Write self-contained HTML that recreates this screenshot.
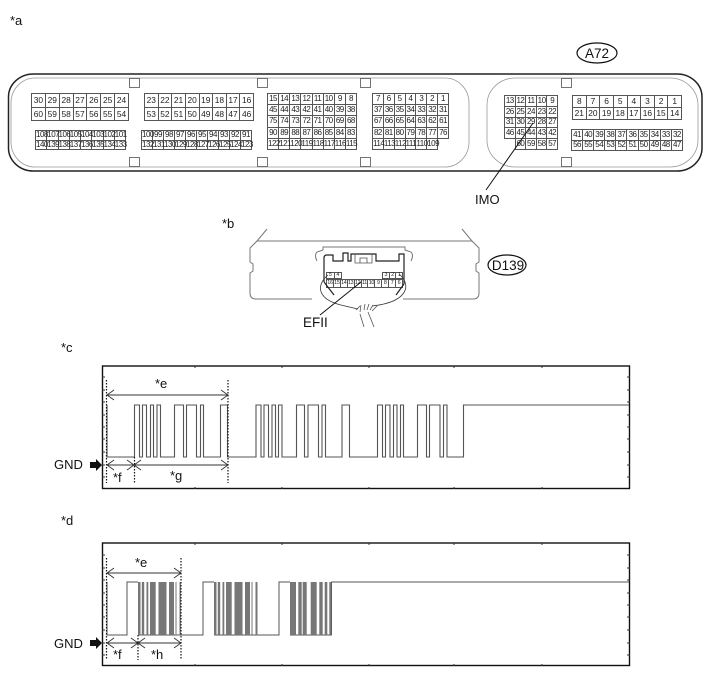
<!DOCTYPE html>
<html><head><meta charset="utf-8"><style>
html,body{margin:0;padding:0;background:#fff;width:713px;height:681px;overflow:hidden}
#w{position:relative;width:713px;height:681px;font-family:"Liberation Sans",sans-serif;color:#111}
table{position:absolute;border-collapse:collapse;table-layout:fixed;font-size:8.4px;line-height:1;color:#222}
td{border:1px solid #555;padding:0;text-align:center;white-space:nowrap;overflow:visible}
table.s{font-size:8px;letter-spacing:-.5px}
table.t{font-size:5.4px;letter-spacing:-.3px}
td.n{border:none}
svg{position:absolute;left:0;top:0}
svg text{font-family:"Liberation Sans",sans-serif;font-size:13px;fill:#111}
</style></head><body><div id="w">
<table style="left:31px;top:93px;width:98px;height:28px"><tr><td>30</td><td>29</td><td>28</td><td>27</td><td>26</td><td>25</td><td>24</td></tr><tr><td>60</td><td>59</td><td>58</td><td>57</td><td>56</td><td>55</td><td>54</td></tr></table>
<table style="left:144px;top:93px;width:110px;height:28px"><tr><td>23</td><td>22</td><td>21</td><td>20</td><td>19</td><td>18</td><td>17</td><td>16</td></tr><tr><td>53</td><td>52</td><td>51</td><td>50</td><td>49</td><td>48</td><td>47</td><td>46</td></tr></table>
<table class="s" style="left:35px;top:130px;width:91px;height:20px"><tr><td>108</td><td>107</td><td>106</td><td>105</td><td>104</td><td>103</td><td>102</td><td>101</td></tr><tr><td>140</td><td>139</td><td>138</td><td>137</td><td>136</td><td>135</td><td>134</td><td>133</td></tr></table>
<table class="s" style="left:141px;top:130px;width:111px;height:20px"><tr><td>100</td><td>99</td><td>98</td><td>97</td><td>96</td><td>95</td><td>94</td><td>93</td><td>92</td><td>91</td></tr><tr><td>132</td><td>131</td><td>130</td><td>129</td><td>128</td><td>127</td><td>126</td><td>125</td><td>124</td><td>123</td></tr></table>
<table class="s" style="left:267px;top:93px;width:90px;height:57px"><tr><td>15</td><td>14</td><td>13</td><td>12</td><td>11</td><td>10</td><td>9</td><td>8</td></tr><tr><td>45</td><td>44</td><td>43</td><td>42</td><td>41</td><td>40</td><td>39</td><td>38</td></tr><tr><td>75</td><td>74</td><td>73</td><td>72</td><td>71</td><td>70</td><td>69</td><td>68</td></tr><tr><td>90</td><td>89</td><td>88</td><td>87</td><td>86</td><td>85</td><td>84</td><td>83</td></tr><tr><td>122</td><td>121</td><td>120</td><td>119</td><td>118</td><td>117</td><td>116</td><td>115</td></tr></table>
<table class="s" style="left:372px;top:93px;width:77px;height:57px"><tr><td>7</td><td>6</td><td>5</td><td>4</td><td>3</td><td>2</td><td>1</td></tr><tr><td>37</td><td>36</td><td>35</td><td>34</td><td>33</td><td>32</td><td>31</td></tr><tr><td>67</td><td>66</td><td>65</td><td>64</td><td>63</td><td>62</td><td>61</td></tr><tr><td>82</td><td>81</td><td>80</td><td>79</td><td>78</td><td>77</td><td>76</td></tr><tr><td>114</td><td>113</td><td>112</td><td>111</td><td>110</td><td>109</td><td class="n"></td></tr></table>
<table class="s" style="left:504px;top:95px;width:54px;height:55px"><tr><td>13</td><td>12</td><td>11</td><td>10</td><td>9</td></tr><tr><td>26</td><td>25</td><td>24</td><td>23</td><td>22</td></tr><tr><td>31</td><td>30</td><td>29</td><td>28</td><td>27</td></tr><tr><td>46</td><td>45</td><td>44</td><td>43</td><td>42</td></tr><tr><td class="n"></td><td>60</td><td>59</td><td>58</td><td>57</td></tr></table>
<table style="left:572px;top:95px;width:110px;height:25px"><tr><td>8</td><td>7</td><td>6</td><td>5</td><td>4</td><td>3</td><td>2</td><td>1</td></tr><tr><td>21</td><td>20</td><td>19</td><td>18</td><td>17</td><td>16</td><td>15</td><td>14</td></tr></table>
<table class="s" style="left:571px;top:129px;width:112px;height:22px"><tr><td>41</td><td>40</td><td>39</td><td>38</td><td>37</td><td>36</td><td>35</td><td>34</td><td>33</td><td>32</td></tr><tr><td>56</td><td>55</td><td>54</td><td>53</td><td>52</td><td>51</td><td>50</td><td>49</td><td>48</td><td>47</td></tr></table>
<table class="t" style="left:326px;top:272px;width:16px;height:7px"><tr><td>5</td><td>4</td></tr></table>
<table class="t" style="left:382px;top:272px;width:21px;height:7px"><tr><td>3</td><td>2</td><td>1</td></tr></table>
<table class="t" style="left:326px;top:279px;width:77px;height:9px"><tr><td>16</td><td>15</td><td>14</td><td>13</td><td>12</td><td>11</td><td>10</td><td>9</td><td>8</td><td>7</td><td>6</td></tr></table>
<svg width="713" height="681" viewBox="0 0 713 681">
<text x="10" y="25">*a</text>
<rect x="8.500" y="74" width="693.500" height="97" rx="25" ry="23" fill="none" stroke="#222" stroke-width="1.500"/>
<rect x="11" y="78" width="458" height="89" rx="24" ry="25" fill="none" stroke="#999" stroke-width=".8"/>
<rect x="487" y="78" width="211" height="89" rx="28" ry="27" fill="none" stroke="#999" stroke-width=".8"/>
<g fill="none" stroke="#666" stroke-width=".9">
<rect x="129.500" y="78.500" width="10" height="9"/><rect x="257.500" y="78.500" width="10" height="9"/><rect x="360.500" y="78.500" width="10" height="9"/><rect x="561.500" y="78.500" width="10" height="9"/>
<rect x="129.500" y="157.500" width="10" height="9"/><rect x="257.500" y="157.500" width="10" height="9"/><rect x="360.500" y="157.500" width="10" height="9"/><rect x="561.500" y="157.500" width="10" height="9"/>
</g>
<ellipse cx="597" cy="53" rx="20" ry="10" fill="none" stroke="#111" stroke-width="1.2"/>
<text x="597" y="58" text-anchor="middle" style="font-size:13.5px">A72</text>
<line x1="533" y1="123" x2="486" y2="190" stroke="#111" stroke-width="1"/>
<text x="475" y="204">IMO</text>

<text x="222" y="228">*b</text>
<g fill="none" stroke="#777" stroke-width="1">
<path d="M267 229 L257 241 H472 L462 229"/>
<path d="M257 241 L250 248 V262 L253 264 V271 L250 273 V293 Q250 299 256 299 H312"/>
<path d="M472 241 L479 248 V262 L476 264 V271 L479 273 V293 Q479 299 473 299 H403"/>
<path d="M317 261 Q314 255 317 252 L323 250 V247 H405 V250 L411 252 Q414 255 411 261"/>
</g>
<path d="M324 282 V258 Q324 255 327 255 H333 V261 H343 V253 H348 V261 H351 V254 H376 V261 H399 V254 H404 V284 M324 282 L334 295 M404 284 L396 295" fill="none" stroke="#222" stroke-width="1.2"/>
<path d="M355 254 V263 H372 V254 M360 263 V258 H367 V263" fill="none" stroke="#555" stroke-width=".8"/>
<path d="M328 275 C316 285 316 300 345 306 L358 309 M399 274 C412 285 408 302 372 306" fill="none" stroke="#333" stroke-width=".8"/>
<path d="M356 310 L360 306 M360 312 L361 305 M364 310 L365 304 M367 310 L369 304 M370 310 L373 305 M372 311 L377 306 M360 314 L364 327 M368 312 L374 327" fill="none" stroke="#555" stroke-width=".8"/>
<line x1="361" y1="282" x2="320" y2="315" stroke="#111" stroke-width="1"/>
<text x="303" y="327" style="font-size:13.5px">EFII</text>
<ellipse cx="507" cy="265" rx="19" ry="10" fill="none" stroke="#111" stroke-width="1.2"/>
<text x="508" y="270" text-anchor="middle" style="font-size:13.5px">D139</text>

<text x="61" y="352">*c</text>
<rect x="102.500" y="366" width="527" height="122.500" fill="none" stroke="#111" stroke-width="1.400"/>
<path d="M195 366v2M282 366v2M369 366v2M454 366v2M542 366v2M195 489v-2M282 489v-2M369 489v-2M454 489v-2M542 489v-2M102 377h3M102 390h3M102 402h3M102 415h3M102 427h3M102 439h3M102 452h3M102 465h3M102 477h3M630 377h-3M630 390h-3M630 402h-3M630 415h-3M630 427h-3M630 439h-3M630 452h-3M630 465h-3M630 477h-3" stroke="#333" stroke-width="1" fill="none"/>
<path d="M107 405 V457 H134.500 V405 H139.500 V457 H142.500 V405 H146.500 V457 H150.500 V405 H153.500 V457 H157 V405 H160.500 V457 H174.500 V405 H183.500 V457 H186.500 V405 H196.500 V457 H200.500 V405 H203.500 V457 H220.500 V405 H227.500 V457 H256 V405 H261 V457 H264 V405 H268.500 V457 H272 V405 H275.500 V457 H278.500 V405 H282 V457 H296.500 V405 H304.500 V457 H308 V405 H318.500 V457 H322 V405 H325.500 V457 H342 V405 H349.500 V457 H377.500 V405 H382.500 V457 H385.500 V405 H390 V457 H393.500 V405 H397 V457 H400.500 V405 H403.500 V457 H417.500 V405 H426.500 V457 H429.500 V405 H440 V457 H443.500 V405 H447 V457 H463.500 V405 H629" fill="none" stroke="#555" stroke-width="1.100"/>
<path d="M106.500 380V483M228 380V483M134.500 457V483" stroke="#111" stroke-width="1.200" stroke-dasharray="1.500 1.500" fill="none"/>
<path d="M114 390 L107 395 L114 400 M107 395 H228 M221 390 L228 395 L221 400 M114 460 L107 465 L114 470 M107 465 H134 M127 460 L134 465 L127 470 M141 460 L134 465 L141 470 M134 465 H228 M221 460 L228 465 L221 470" fill="none" stroke="#333" stroke-width=".9"/>
<text x="155" y="388">*e</text><text x="113" y="482">*f</text><text x="170" y="480">*g</text>
<text x="54" y="469">GND</text>
<path d="M90 462 H96 V459 L102 465 L96 471 V468 H90 Z" fill="#111"/>

<text x="61" y="525">*d</text>
<rect x="102.500" y="543" width="527" height="122.500" fill="none" stroke="#111" stroke-width="1.400"/>
<path d="M195 543v2M282 543v2M369 543v2M454 543v2M542 543v2M195 666v-2M282 666v-2M369 666v-2M454 666v-2M542 666v-2M102 555h3M102 568h3M102 580h3M102 593h3M102 605h3M102 617h3M102 630h3M102 643h3M102 655h3M630 555h-3M630 568h-3M630 580h-3M630 593h-3M630 605h-3M630 617h-3M630 630h-3M630 643h-3M630 655h-3" stroke="#333" stroke-width="1" fill="none"/>
<path d="M107 582 V635 H127 V582 H138 M138 635 H203 V582 H214 M214 635 H279 V582 H290 M290 635 H331.500 V582 H629" fill="none" stroke="#555" stroke-width="1"/>
<g fill="#777">
<rect x="138" y="582" width="2.500" height="53"/><rect x="141.800" y="582" width="2.400" height="53"/><rect x="146.500" y="582" width="1.800" height="53"/><rect x="150" y="582" width="5.700" height="53"/><rect x="158.500" y="582" width="8" height="53"/><rect x="169" y="582" width="5" height="53"/><rect x="175.500" y="582" width="1" height="53"/><rect x="179.500" y="582" width="1.500" height="53"/>
<rect x="214" y="582" width="2.500" height="53"/><rect x="217.800" y="582" width="2.400" height="53"/><rect x="222.500" y="582" width="1.800" height="53"/><rect x="226" y="582" width="5.700" height="53"/><rect x="234.500" y="582" width="8" height="53"/><rect x="245" y="582" width="5" height="53"/><rect x="251.500" y="582" width="1" height="53"/><rect x="255.500" y="582" width="2" height="53"/>
<rect x="290" y="582" width="6" height="53"/><rect x="298.300" y="582" width="3.400" height="53"/><rect x="302.700" y="582" width="4" height="53"/><rect x="310.700" y="582" width="6" height="53"/><rect x="319.300" y="582" width="3.400" height="53"/><rect x="324.700" y="582" width="2.600" height="53"/><rect x="329.300" y="582" width="2" height="53"/>
</g>
<path d="M106.500 558V660M181 558V660M138 635V660" stroke="#111" stroke-width="1.200" stroke-dasharray="1.500 1.500" fill="none"/>
<path d="M114 568 L107 573 L114 578 M107 573 H181 M174 568 L181 573 L174 578 M114 638 L107 643 L114 648 M107 643 H138 M131 638 L138 643 L131 648 M145 638 L138 643 L145 648 M138 643 H181 M174 638 L181 643 L174 648" fill="none" stroke="#333" stroke-width=".9"/>
<text x="135" y="567">*e</text><text x="113" y="659">*f</text><text x="151" y="659">*h</text>
<text x="54" y="648">GND</text>
<path d="M90 640 H96 V637 L102 643 L96 649 V646 H90 Z" fill="#111"/>
</svg>
</div></body></html>
